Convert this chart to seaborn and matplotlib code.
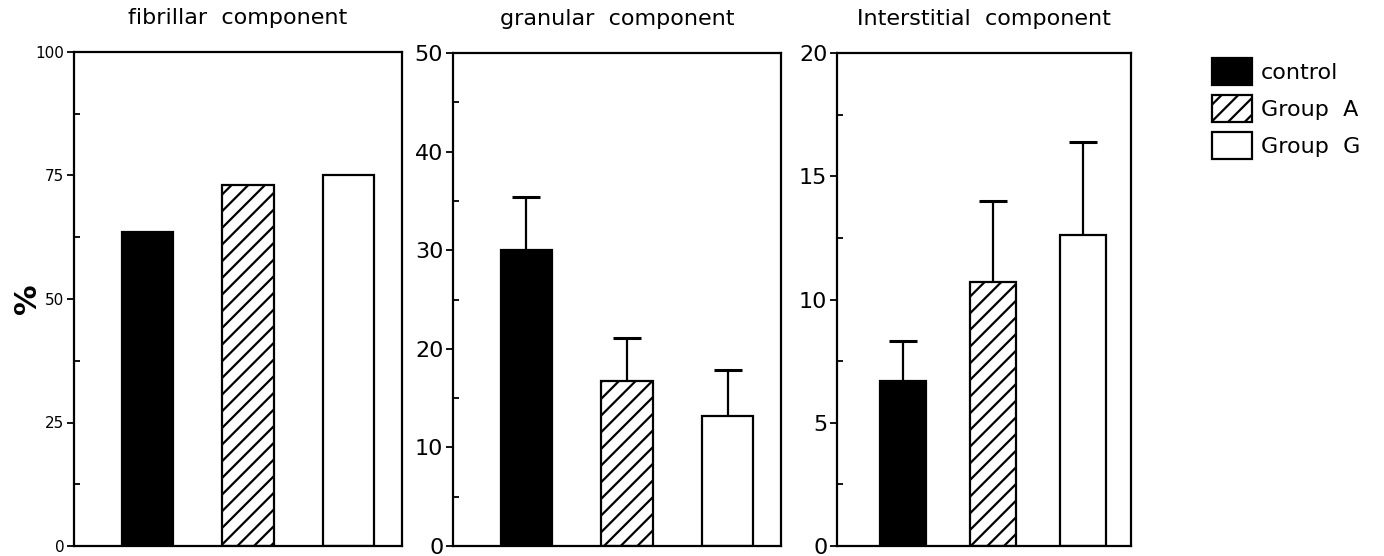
import numpy as np
import pandas as pd
import matplotlib
matplotlib.use("Agg")
import matplotlib.pyplot as plt
from matplotlib.patches import Patch
from matplotlib.ticker import MultipleLocator
import seaborn as sns

# ---- data ----
groups = ["control", "Group A", "Group G"]
fibrillar = [63.5, 73.0, 75.0]
granular = [30.0, 16.7, 13.2]
granular_err = [5.4, 4.4, 4.6]
interstitial = [6.7, 10.7, 12.6]
interstitial_err = [1.6, 3.3, 3.8]

titles = ["fibrillar  component", "granular  component", "Interstitial  component"]
legend_labels = ["control", "Group  A", "Group  G"]
ymax = [100, 50, 20]
major_step = [25, 10, 5]
tick_size = [11, 16, 16]

sns.set_theme(style="white")
plt.rcParams["font.family"] = ["DejaVu Sans"]
plt.rcParams["text.color"] = "black"
plt.rcParams["axes.labelcolor"] = "black"
plt.rcParams["ytick.color"] = "black"
plt.rcParams["hatch.linewidth"] = 1.6
plt.rcParams["hatch.color"] = "black"

fig = plt.figure(figsize=(13.84, 5.56), dpi=100)
W, H = 1384, 556
boxes = [(74, 402), (453, 781), (837, 1131)]
top_px = [52, 53, 53]
bottom_px = 546

facecolors = ["black", "white", "white"]
hatches = ["", "//", ""]

series = [(fibrillar, None), (granular, granular_err), (interstitial, interstitial_err)]

for i, ((vals, errs), (l, r)) in enumerate(zip(series, boxes)):
    ax = fig.add_axes([l / W, (H - bottom_px) / H, (r - l) / W, (bottom_px - top_px[i]) / H])
    df = pd.DataFrame({"group": groups, "value": vals})
    sns.barplot(data=df, x="group", y="value", order=groups, ax=ax,
                width=0.51, errorbar=None, color="white", saturation=1)
    for p, fc, h in zip(ax.patches, facecolors, hatches):
        p.set_facecolor(fc)
        p.set_edgecolor("black")
        p.set_linewidth(1.6)
        p.set_hatch(h)
    if errs is not None:
        x = np.arange(len(groups))
        eb = ax.errorbar(x, vals, yerr=[np.zeros(len(errs)), errs], fmt="none",
                         ecolor="black", elinewidth=1.6, capsize=10, capthick=2.2, zorder=1)
        caps = eb[1]
        if len(caps) == 2:
            caps[0].set_visible(False)
    ax.set_xlim(-0.73, 2.53)
    ax.set_ylim(0, ymax[i])
    ax.set_xticks([])
    ax.set_xlabel("")
    ax.set_ylabel("")
    ax.yaxis.set_major_locator(MultipleLocator(major_step[i]))
    ax.yaxis.set_minor_locator(MultipleLocator(major_step[i] / 2))
    ax.tick_params(axis="y", which="major", direction="out", length=5, width=1.3,
                   labelsize=tick_size[i], pad=2, left=True, colors="black")
    ax.tick_params(axis="y", which="minor", direction="in", length=4, width=1.3, left=True)
    for s in ax.spines.values():
        s.set_visible(True)
        s.set_color("black")
        s.set_linewidth(1.6)
    ax.set_title(titles[i], fontsize=16, pad=20, color="black")
    if i == 0:
        ax.set_ylabel("%", fontsize=22, fontweight="bold", color="black")
        ax.yaxis.set_label_coords(-0.098, 0.5)

handles = [Patch(facecolor=fc, edgecolor="black", hatch=h, linewidth=1.6)
           for fc, h in zip(facecolors, hatches)]
fig.legend(handles, legend_labels, loc="upper left",
           bbox_to_anchor=(1212 / W, 1 - 58 / H), frameon=False, fontsize=16,
           handlelength=1.8, handleheight=1.5, labelspacing=0.45,
           handletextpad=0.4, borderpad=0, borderaxespad=0)

fig.savefig("out.png", dpi=100)
